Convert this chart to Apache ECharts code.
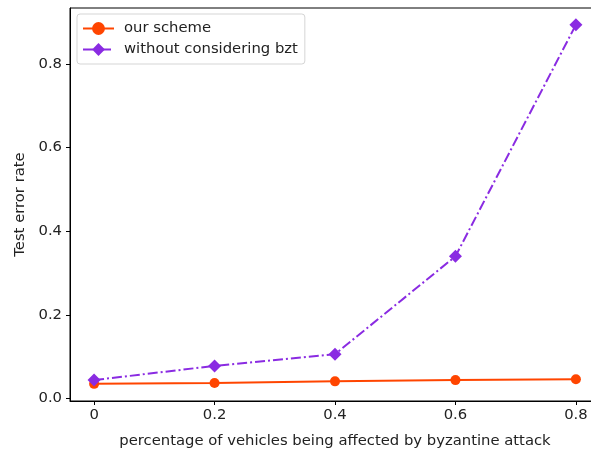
<!DOCTYPE html>
<html>
<head>
<meta charset="utf-8">
<script src="https://cdn.jsdelivr.net/npm/echarts@6/dist/echarts.min.js"></script>
<style>
  html, body { margin: 0; padding: 0; background: #fff; }
  #chart { width: 591px; height: 450px; }
</style>
</head>
<body>
<div id="chart"></div>
<script>
// attack share on the x axis
const attackRatio = [0, 0.2, 0.4, 0.6, 0.8];
const ourScheme = [0.035, 0.037, 0.041, 0.044, 0.046];
const withoutBzt = [0.044, 0.078, 0.106, 0.340, 0.894];
const xTicks = [0, 0.2, 0.4, 0.6, 0.8];
const yTicks = [0, 0.2, 0.4, 0.6, 0.8];

const font = "DejaVu Sans";
const textColor = "#222";
const fs = 14.8;

const pairs = (ys) => attackRatio.map((x, i) => [x, ys[i]]);

const chart = echarts.init(document.getElementById("chart"), null, { renderer: "canvas" });

chart.setOption({
  animation: false,
  backgroundColor: "#fff",
  textStyle: { fontFamily: font, color: textColor },
  // frame runs past the right edge of the picture, as in the original
  grid: {
    left: 70,
    right: -9,
    top: 8,
    bottom: 49,
    outerBoundsMode: "none",
    containLabel: false,
    show: true,
    borderColor: "#000",
    borderWidth: 1,
  },
  legend: {
    left: 77,
    top: 14,
    orient: "vertical",
    itemWidth: 31,
    itemHeight: 16,
    itemGap: 6,
    padding: [7, 7, 7, 5],
    borderColor: "#d5d5d5",
    borderWidth: 1,
    borderRadius: 3,
    backgroundColor: "rgba(255,255,255,0.8)",
    textStyle: { fontFamily: font, fontSize: fs, color: textColor, padding: [0, 0, 0, 5] },
    data: ["our scheme", "without considering bzt"],
  },
  xAxis: {
    type: "value",
    min: -0.04,
    max: 0.84,
    name: "percentage of vehicles being affected by byzantine attack",
    nameLocation: "middle",
    nameGap: 33,
    nameTextStyle: { fontFamily: font, fontSize: fs, color: textColor },
    splitLine: { show: false },
    axisLine: { show: true, onZero: false, lineStyle: { color: "#000", width: 1 } },
    axisTick: { show: true, length: 4, customValues: xTicks, lineStyle: { color: "#000" } },
    axisLabel: {
      customValues: xTicks,
      margin: 7,
      fontFamily: font,
      fontSize: fs,
      color: textColor,
      formatter: (v) => (v === 0 ? "0" : String(+v.toFixed(1))),
    },
  },
  yAxis: {
    type: "value",
    min: -0.006,
    max: 0.934,
    name: "Test error rate",
    nameLocation: "middle",
    nameRotate: 90,
    nameGap: 35,
    nameTextStyle: { fontFamily: font, fontSize: fs, color: textColor },
    splitLine: { show: false },
    axisLine: { show: true, onZero: false, lineStyle: { color: "#000", width: 1 } },
    axisTick: { show: true, length: 4, customValues: yTicks, lineStyle: { color: "#000" } },
    axisLabel: {
      customValues: yTicks,
      margin: 8,
      fontFamily: font,
      fontSize: fs,
      color: textColor,
      formatter: (v) => v.toFixed(1),
    },
  },
  series: [
    {
      name: "our scheme",
      type: "line",
      data: pairs(ourScheme),
      symbol: "circle",
      symbolSize: 10,
      itemStyle: { color: "#ff4500" },
      lineStyle: { color: "#ff4500", width: 2 },
      z: 3,
    },
    {
      name: "without considering bzt",
      type: "line",
      data: pairs(withoutBzt),
      symbol: "diamond",
      symbolSize: 13,
      itemStyle: { color: "#8a2be2" },
      lineStyle: { color: "#8a2be2", width: 2, type: [10, 3, 2, 3] },
      z: 4,
    },
  ],
});
</script>
</body>
</html>
